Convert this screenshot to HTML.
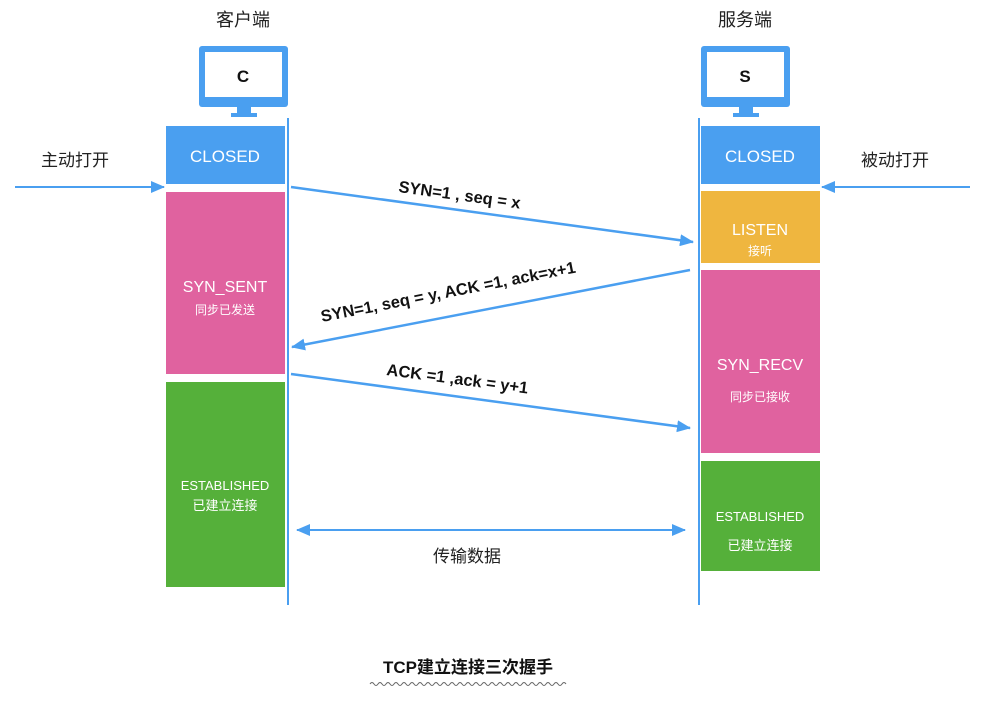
<!DOCTYPE html>
<html><head><meta charset="utf-8"><style>
body{margin:0;background:#fff;}
svg text{font-family:"Liberation Sans","Noto Sans CJK SC",sans-serif;}
</style></head><body>
<svg width="985" height="696" viewBox="0 0 985 696" xmlns="http://www.w3.org/2000/svg">
<defs>
<marker id="a" markerWidth="14" markerHeight="12" refX="13" refY="6" orient="auto" markerUnits="userSpaceOnUse"><path d="M0,0 L14,6 L0,12 Z" fill="#4a9ff0"/></marker>
<marker id="b" markerWidth="14" markerHeight="12" refX="1" refY="6" orient="auto" markerUnits="userSpaceOnUse"><path d="M14,0 L0,6 L14,12 Z" fill="#4a9ff0"/></marker>
</defs>
<text x="243" y="26" font-size="18" text-anchor="middle" fill="#222">客户端</text>
<text x="745" y="26" font-size="18" text-anchor="middle" fill="#222">服务端</text>
<rect x="199" y="46" width="89" height="61" rx="3" fill="#4a9ff0"/>
<rect x="205" y="52" width="77" height="45" fill="#fff"/>
<rect x="237" y="106" width="14" height="8" fill="#4a9ff0"/><rect x="231" y="113" width="26" height="4" fill="#4a9ff0"/>
<text x="243" y="82" font-size="17" font-weight="bold" text-anchor="middle" fill="#111">C</text>
<rect x="701" y="46" width="89" height="61" rx="3" fill="#4a9ff0"/>
<rect x="707" y="52" width="77" height="45" fill="#fff"/>
<rect x="739" y="106" width="14" height="8" fill="#4a9ff0"/><rect x="733" y="113" width="26" height="4" fill="#4a9ff0"/>
<text x="745" y="82" font-size="17" font-weight="bold" text-anchor="middle" fill="#111">S</text>
<line x1="288" y1="118" x2="288" y2="605" stroke="#4a9ff0" stroke-width="2"/>
<line x1="699" y1="118" x2="699" y2="605" stroke="#4a9ff0" stroke-width="2"/>
<rect x="166" y="126" width="119" height="58" fill="#4a9ff0"/>
<text x="225" y="162" font-size="17" text-anchor="middle" fill="#fff">CLOSED</text>
<rect x="166" y="192" width="119" height="182" fill="#e0629f"/>
<text x="225" y="292" font-size="16" text-anchor="middle" fill="#fff">SYN_SENT</text>
<text x="225" y="314" font-size="12" text-anchor="middle" fill="#fff">同步已发送</text>
<rect x="166" y="382" width="119" height="205" fill="#55b03a"/>
<text x="225" y="490" font-size="13" text-anchor="middle" fill="#fff">ESTABLISHED</text>
<text x="225" y="510" font-size="13" text-anchor="middle" fill="#fff">已建立连接</text>
<rect x="701" y="126" width="119" height="58" fill="#4a9ff0"/>
<text x="760" y="162" font-size="17" text-anchor="middle" fill="#fff">CLOSED</text>
<rect x="701" y="191" width="119" height="72" fill="#efb63f"/>
<text x="760" y="235" font-size="16" text-anchor="middle" fill="#fff">LISTEN</text>
<text x="760" y="255" font-size="12" text-anchor="middle" fill="#fff">接听</text>
<rect x="701" y="270" width="119" height="183" fill="#e0629f"/>
<text x="760" y="370" font-size="16" text-anchor="middle" fill="#fff">SYN_RECV</text>
<text x="760" y="401" font-size="12" text-anchor="middle" fill="#fff">同步已接收</text>
<rect x="701" y="461" width="119" height="110" fill="#55b03a"/>
<text x="760" y="521" font-size="13" text-anchor="middle" fill="#fff">ESTABLISHED</text>
<text x="760" y="550" font-size="13" text-anchor="middle" fill="#fff">已建立连接</text>
<text x="75" y="166" font-size="17" text-anchor="middle" fill="#222">主动打开</text>
<line x1="15" y1="187" x2="164" y2="187" stroke="#4a9ff0" stroke-width="2" marker-end="url(#a)"/>
<text x="895" y="166" font-size="17" text-anchor="middle" fill="#222">被动打开</text>
<line x1="970" y1="187" x2="822" y2="187" stroke="#4a9ff0" stroke-width="2" marker-end="url(#a)"/>
<line x1="291" y1="187" x2="693" y2="242" stroke="#4a9ff0" stroke-width="2.5" marker-end="url(#a)"/>
<text x="0" y="0" font-size="16.5" font-weight="bold" fill="#111" transform="translate(398,192) rotate(7.8)">SYN=1 , seq = x</text>
<line x1="690" y1="270" x2="292" y2="347" stroke="#4a9ff0" stroke-width="2.5" marker-end="url(#a)"/>
<text x="0" y="0" font-size="16.5" font-weight="bold" fill="#111" transform="translate(322,322) rotate(-11)">SYN=1, seq = y, ACK =1, ack=x+1</text>
<line x1="291" y1="374" x2="690" y2="428" stroke="#4a9ff0" stroke-width="2.5" marker-end="url(#a)"/>
<text x="0" y="0" font-size="16.5" font-weight="bold" fill="#111" transform="translate(386,375) rotate(7.5)">ACK =1 ,ack = y+1</text>
<line x1="297" y1="530" x2="685" y2="530" stroke="#4a9ff0" stroke-width="2" marker-start="url(#b)" marker-end="url(#a)"/>
<text x="467" y="562" font-size="17" text-anchor="middle" fill="#222">传输数据</text>
<text x="468" y="673" font-size="17" font-weight="bold" text-anchor="middle" fill="#111">TCP建立连接三次握手</text>
<path d="M370,684 q2,-3 4,0 t4,0 t4,0 t4,0 t4,0 t4,0 t4,0 t4,0 t4,0 t4,0 t4,0 t4,0 t4,0 t4,0 t4,0 t4,0 t4,0 t4,0 t4,0 t4,0 t4,0 t4,0 t4,0 t4,0 t4,0 t4,0 t4,0 t4,0 t4,0 t4,0 t4,0 t4,0 t4,0 t4,0 t4,0 t4,0 t4,0 t4,0 t4,0 t4,0 t4,0 t4,0 t4,0 t4,0 t4,0 t4,0 t4,0 t4,0 t4,0" fill="none" stroke="#666" stroke-width="1"/>
</svg>
</body></html>
